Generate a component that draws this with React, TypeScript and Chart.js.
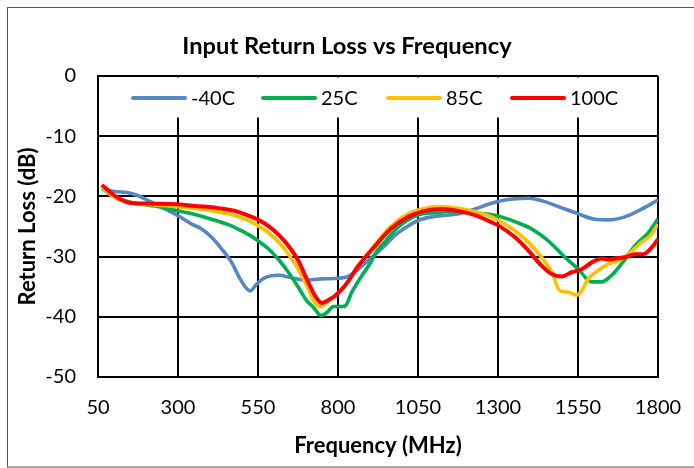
import { useEffect, useRef } from 'react';
import { Chart, registerables } from 'chart.js';

Chart.register(...registerables);

const chartTitle = 'Input Return Loss vs Frequency';
const xTitle = 'Frequency (MHz)';
const yTitle = 'Return Loss (dB)';
const xTickLabels = [50, 300, 550, 800, 1050, 1300, 1550, 1800];
const yTickLabels = [0, -10, -20, -30, -40, -50];
const seriesNames = ['-40C', '25C', '85C', '100C'];
const seriesColors = ['#5586C6', '#00B050', '#FFC000', '#FF0000'];

const freqM40 = [62, 103, 145, 176, 207, 249, 299, 343, 374, 405, 436, 468, 494, 525, 545, 572, 613, 655, 697, 749, 801, 832, 863, 894, 915, 946, 977, 1019, 1050, 1092, 1144, 1186, 1228, 1270, 1303, 1353, 1395, 1436, 1489, 1551, 1603, 1645, 1697, 1749, 1800];
const valsM40 = [-18.8, -19.2, -19.4, -19.9, -20.7, -21.8, -23.2, -24.6, -25.4, -26.8, -28.7, -31.0, -33.7, -35.7, -34.6, -33.5, -33.1, -33.5, -33.9, -33.7, -33.6, -33.3, -32.1, -30.7, -29.7, -28.2, -26.5, -24.9, -24.0, -23.4, -23.1, -22.8, -22.1, -21.3, -20.8, -20.4, -20.3, -20.7, -21.7, -22.9, -23.8, -23.9, -23.4, -22.1, -20.6];

const freq25 = [62, 93, 134, 176, 228, 299, 353, 405, 457, 494, 520, 551, 582, 613, 645, 676, 702, 723, 747, 765, 786, 806, 822, 843, 874, 905, 915, 946, 988, 1050, 1102, 1155, 1207, 1259, 1303, 1353, 1405, 1457, 1509, 1551, 1592, 1624, 1655, 1686, 1728, 1770, 1800];
const vals25 = [-18.5, -19.9, -20.7, -21.2, -21.6, -22.4, -23.0, -23.8, -24.7, -25.6, -26.3, -27.4, -28.7, -30.4, -32.6, -35.1, -37.3, -38.4, -39.8, -39.3, -38.3, -38.3, -38.2, -35.9, -33.2, -30.7, -29.6, -27.6, -25.1, -23.1, -22.7, -22.5, -22.7, -22.9, -23.3, -24.2, -25.4, -27.4, -30.1, -32.1, -34.2, -34.2, -33.1, -31.2, -28.2, -26.0, -23.7];

const freq85 = [62, 103, 145, 197, 299, 353, 405, 457, 478, 520, 551, 582, 613, 645, 676, 702, 723, 744, 765, 791, 822, 863, 905, 940, 967, 1019, 1071, 1113, 1165, 1217, 1270, 1303, 1353, 1395, 1436, 1468, 1494, 1520, 1546, 1561, 1582, 1613, 1645, 1676, 1707, 1749, 1780, 1800];
const vals85 = [-18.5, -20.2, -21.0, -21.3, -21.7, -22.0, -22.4, -22.9, -23.2, -24.0, -24.9, -26.0, -27.5, -29.6, -32.1, -34.8, -37.3, -38.3, -37.6, -36.5, -34.8, -31.5, -28.7, -26.4, -24.9, -22.9, -22.0, -21.7, -21.9, -22.4, -23.2, -24.0, -25.7, -27.6, -30.1, -32.6, -35.7, -35.9, -36.4, -35.7, -33.7, -32.3, -31.2, -30.7, -29.6, -27.6, -26.3, -24.6];

const freq100 = [62, 103, 145, 197, 299, 353, 405, 457, 478, 520, 551, 582, 613, 645, 676, 702, 728, 749, 770, 791, 822, 863, 915, 967, 1019, 1071, 1123, 1175, 1228, 1280, 1303, 1353, 1395, 1436, 1468, 1499, 1530, 1561, 1592, 1624, 1645, 1665, 1697, 1728, 1754, 1780, 1800];
const vals100 = [-18.1, -19.9, -21.0, -21.2, -21.3, -21.6, -21.8, -22.2, -22.4, -23.2, -23.9, -24.9, -26.3, -28.2, -30.7, -33.7, -36.5, -37.7, -37.2, -36.5, -34.8, -31.6, -28.3, -25.3, -23.4, -22.4, -22.1, -22.4, -23.1, -24.3, -24.9, -26.8, -29.0, -31.5, -32.9, -33.3, -32.6, -32.1, -31.0, -30.3, -30.5, -30.3, -30.1, -29.6, -29.6, -28.5, -27.1];

const seriesFreqs = [freqM40, freq25, freq85, freq100];
const seriesVals = [valsM40, vals25, vals85, vals100];

const FONT = 'Lato';

const legendAndFrame = {
  id: 'legendAndFrame',
  beforeDatasetsDraw(chart: any) {
    const { ctx, chartArea } = chart;
    ctx.save();
    ctx.fillStyle = '#fff';
    ctx.fillRect(chartArea.left + 1.5, chartArea.top + 1.5, chartArea.right - chartArea.left - 3, 40);
    const lineStarts = [133, 263, 388, 512];
    const y = 98;
    ctx.font = `20px ${FONT}`;
    ctx.textBaseline = 'middle';
    ctx.textAlign = 'left';
    seriesNames.forEach((name, i) => {
      ctx.strokeStyle = seriesColors[i];
      ctx.lineWidth = 4;
      ctx.lineCap = 'round';
      ctx.beginPath();
      ctx.moveTo(lineStarts[i], y);
      ctx.lineTo(lineStarts[i] + 52, y);
      ctx.stroke();
      ctx.fillStyle = '#000';
      ctx.fillText(name, lineStarts[i] + 58, y + 1);
    });
    ctx.restore();
  },
  afterDraw(chart: any) {
    const { ctx } = chart;
    ctx.save();
    ctx.strokeStyle = '#555';
    ctx.lineWidth = 1;
    ctx.strokeRect(7.5, 7.5, 700, 459.5);
    ctx.fillStyle = '#000';
    ctx.font = `bold 23.7px ${FONT}`;
    ctx.textAlign = 'center';
    ctx.textBaseline = 'middle';
    ctx.fillText(chartTitle, 347, 46);
    ctx.restore();
  },
};

export default function App() {
  const ref = useRef<HTMLCanvasElement>(null);
  useEffect(() => {
    const canvas = ref.current!;
    const chart = new Chart(canvas, {
      type: 'line',
      data: {
        datasets: seriesNames.map((name, i) => ({
          label: name,
          data: seriesFreqs[i].map((f, j) => ({ x: f, y: seriesVals[i][j] })),
          borderColor: seriesColors[i],
          backgroundColor: seriesColors[i],
          borderWidth: i === 3 ? 4 : 3.6,
          pointRadius: 0,
          cubicInterpolationMode: 'monotone' as const,
          order: 4 - i,
        })),
      },
      options: {
        animation: false,
        responsive: false,
        layout: { padding: { left: 0, right: 36, top: 76, bottom: 0 } },
        plugins: {
          legend: { display: false },
          tooltip: { enabled: false },
          title: { display: false },
        },
        scales: {
          x: {
            type: 'linear',
            min: xTickLabels[0],
            max: xTickLabels[xTickLabels.length - 1],
            afterBuildTicks: (s: any) => { s.ticks = xTickLabels.map((v) => ({ value: v })); },
            afterFit: (s: any) => { s.height = 91; s.paddingLeft = 0; s.paddingRight = 0; },
            ticks: {
              color: '#000',
              font: { family: FONT, size: 20 },
              padding: 19,
              maxRotation: 0,
              callback: (v: any) => String(v),
            },
            grid: { color: '#000', lineWidth: 2, drawTicks: false },
            border: { color: '#000', width: 2 },
            title: {
              display: true,
              text: xTitle,
              color: '#000',
              font: { family: FONT, size: 22, weight: 'bold' },
              padding: { top: 0, bottom: 9 },
            },
          },
          y: {
            min: yTickLabels[yTickLabels.length - 1],
            max: yTickLabels[0],
            afterBuildTicks: (s: any) => { s.ticks = yTickLabels.slice().reverse().map((v) => ({ value: v })); },
            afterFit: (s: any) => { s.width = 98; s.paddingTop = 0; s.paddingBottom = 0; },
            ticks: {
              color: '#000',
              font: { family: FONT, size: 20 },
              padding: 22,
              callback: (v: any) => String(v),
            },
            grid: { color: '#000', lineWidth: 2, drawTicks: false },
            border: { color: '#000', width: 2 },
            title: {
              display: true,
              text: yTitle,
              color: '#000',
              font: { family: FONT, size: 22, weight: 'bold' },
              padding: { top: 15, bottom: 0 },
            },
          },
        },
      },
      plugins: [legendAndFrame],
    } as any);
    return () => chart.destroy();
  }, []);
  return (
    <div style={{ position: 'absolute', left: 0, top: 0, width: 694, height: 468, background: '#fff' }}>
      <canvas ref={ref} width={694} height={468} style={{ display: 'block' }} />
    </div>
  );
}
